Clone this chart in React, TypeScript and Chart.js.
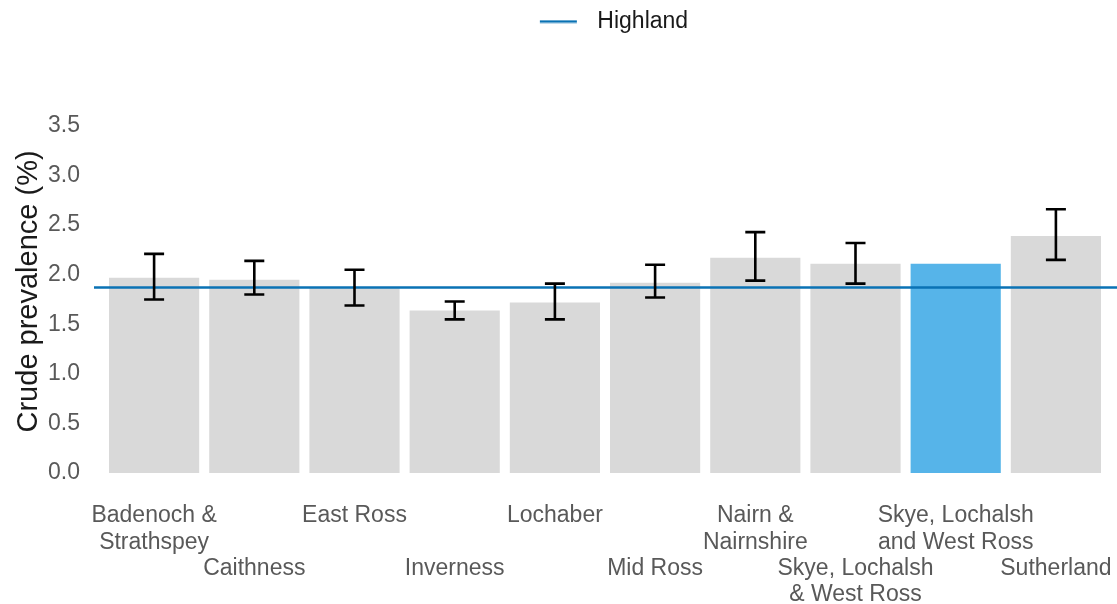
import React, { useEffect, useRef } from 'react';
import { Chart, registerables } from 'chart.js';

Chart.register(...registerables);

// ---- Data ----
const CATEGORIES: string[][] = [
  ['Badenoch &', 'Strathspey'],
  ['Caithness'],
  ['East Ross'],
  ['Inverness'],
  ['Lochaber'],
  ['Mid Ross'],
  ['Nairn &', 'Nairnshire'],
  ['Skye, Lochalsh', '& West Ross'],
  ['Skye, Lochalsh', 'and West Ross'],
  ['Sutherland'],
];
const PREVALENCE = [1.97, 1.95, 1.87, 1.64, 1.72, 1.92, 2.17, 2.11, 2.11, 2.39];
const CI_LOWER: (number | null)[] = [1.75, 1.8, 1.69, 1.55, 1.55, 1.77, 1.94, 1.91, null, 2.15];
const CI_UPPER: (number | null)[] = [2.21, 2.14, 2.05, 1.73, 1.91, 2.1, 2.43, 2.32, null, 2.66];
const HIGHLAND = 1.87;
const HIGHLIGHT_INDEX = 8;
const Y_MIN = 0;
const Y_MAX = 3.5;
const Y_STEP = 0.5;

// ---- Styles ----
const FONT = "'Liberation Sans', Arial, sans-serif";
const GREY = '#d9d9d9';
const BLUE = '#56b4e9';
const LINE_COLOR = '#0a72b4';
const TICK_COLOR = '#595959';

function makeLegendLine(): HTMLCanvasElement {
  const c = document.createElement('canvas');
  c.width = 64;
  c.height = 4;
  const g = c.getContext('2d')!;
  g.strokeStyle = LINE_COLOR;
  g.lineWidth = 2.5;
  g.beginPath();
  g.moveTo(18, 2);
  g.lineTo(55, 2);
  g.stroke();
  return c;
}

const overlayPlugin = {
  id: 'overlay',
  afterDatasetsDraw(chart: any) {
    const { ctx, chartArea } = chart;
    const y = chart.scales.y;
    const yPix = y.getPixelForValue(HIGHLAND);
    ctx.save();
    ctx.strokeStyle = LINE_COLOR;
    ctx.lineWidth = 2.5;
    ctx.beginPath();
    ctx.moveTo(chartArea.left - 10, yPix);
    ctx.lineTo(chart.width, yPix);
    ctx.stroke();

    const meta = chart.getDatasetMeta(0);
    ctx.strokeStyle = '#000';
    ctx.lineWidth = 2.6;
    meta.data.forEach((bar: any, i: number) => {
      const lo = CI_LOWER[i];
      const hi = CI_UPPER[i];
      if (lo == null || hi == null) return;
      const x = bar.x;
      const y1 = y.getPixelForValue(lo);
      const y2 = y.getPixelForValue(hi);
      ctx.beginPath();
      ctx.moveTo(x, y1);
      ctx.lineTo(x, y2);
      ctx.moveTo(x - 10, y1);
      ctx.lineTo(x + 10, y1);
      ctx.moveTo(x - 10, y2);
      ctx.lineTo(x + 10, y2);
      ctx.stroke();
    });
    ctx.restore();
  },
};

const legendSpacer = {
  id: 'legendSpacer',
  beforeInit(chart: any) {
    const legend = chart.legend;
    if (!legend) return;
    const origFit = legend.fit;
    legend.fit = function fit() {
      origFit.call(this);
      this.height += 83;
    };
  },
};

export default function App() {
  const ref = useRef<HTMLCanvasElement | null>(null);

  useEffect(() => {
    if (!ref.current) return;
    const labels = CATEGORIES.map((lines, i) => (i % 2 === 1 ? ['', '', ...lines] : lines));
    const colors = PREVALENCE.map((_, i) => (i === HIGHLIGHT_INDEX ? BLUE : GREY));

    const chart = new Chart(ref.current, {
      type: 'bar',
      data: {
        labels,
        datasets: [
          {
            type: 'bar',
            label: 'Crude prevalence',
            data: PREVALENCE,
            backgroundColor: colors,
            borderWidth: 0,
            barPercentage: 0.9,
            categoryPercentage: 1.0,
          } as any,
          {
            type: 'line',
            label: 'Highland',
            data: [],
            borderColor: LINE_COLOR,
            backgroundColor: LINE_COLOR,
            borderWidth: 2.5,
            pointRadius: 0,
          } as any,
        ],
      },
      options: {
        animation: false,
        responsive: true,
        maintainAspectRatio: false,
        layout: { padding: { left: 0, right: 11, top: 0, bottom: 0 } },
        plugins: {
          tooltip: { enabled: false },
          legend: {
            position: 'top',
            fullSize: false,
            align: 'center',
            labels: {
              usePointStyle: true,
              pointStyle: makeLegendLine() as any,
              pointStyleWidth: 64,
              color: '#1a1a1a',
              font: { family: FONT, size: 23 },
              padding: 10,
              filter: (item: any) => item.text === 'Highland',
            },
          },
        },
        scales: {
          x: {
            type: 'category',
            grid: { display: false, drawTicks: false },
            border: { display: false },
            ticks: {
              autoSkip: false,
              maxRotation: 0,
              minRotation: 0,
              padding: 30,
              color: TICK_COLOR,
              font: { family: FONT, size: 23, lineHeight: 1.1435 },
            },
            afterFit: (scale: any) => {
              scale.height = 131;
              scale.paddingLeft = 0;
              scale.paddingRight = 0;
            },
          },
          y: {
            min: Y_MIN,
            max: Y_MAX,
            grid: { display: false, drawTicks: false },
            border: { display: false },
            ticks: {
              stepSize: Y_STEP,
              padding: 24,
              color: TICK_COLOR,
              font: { family: FONT, size: 23 },
              callback: (v: any) => Number(v).toFixed(1),
            },
            title: {
              display: true,
              text: '  Crude prevalence (%)',
              color: '#1a1a1a',
              font: { family: FONT, size: 29 },
              padding: { top: 11.6, bottom: 0 },
            },
            afterFit: (scale: any) => {
              scale.width = 104;
            },
          },
        },
      } as any,
      plugins: [overlayPlugin, legendSpacer],
    });

    return () => chart.destroy();
  }, []);

  return (
    <div style={{ position: 'fixed', left: 0, top: 0, width: 1117, height: 604, background: '#fff' }}>
      <canvas ref={ref} />
    </div>
  );
}
